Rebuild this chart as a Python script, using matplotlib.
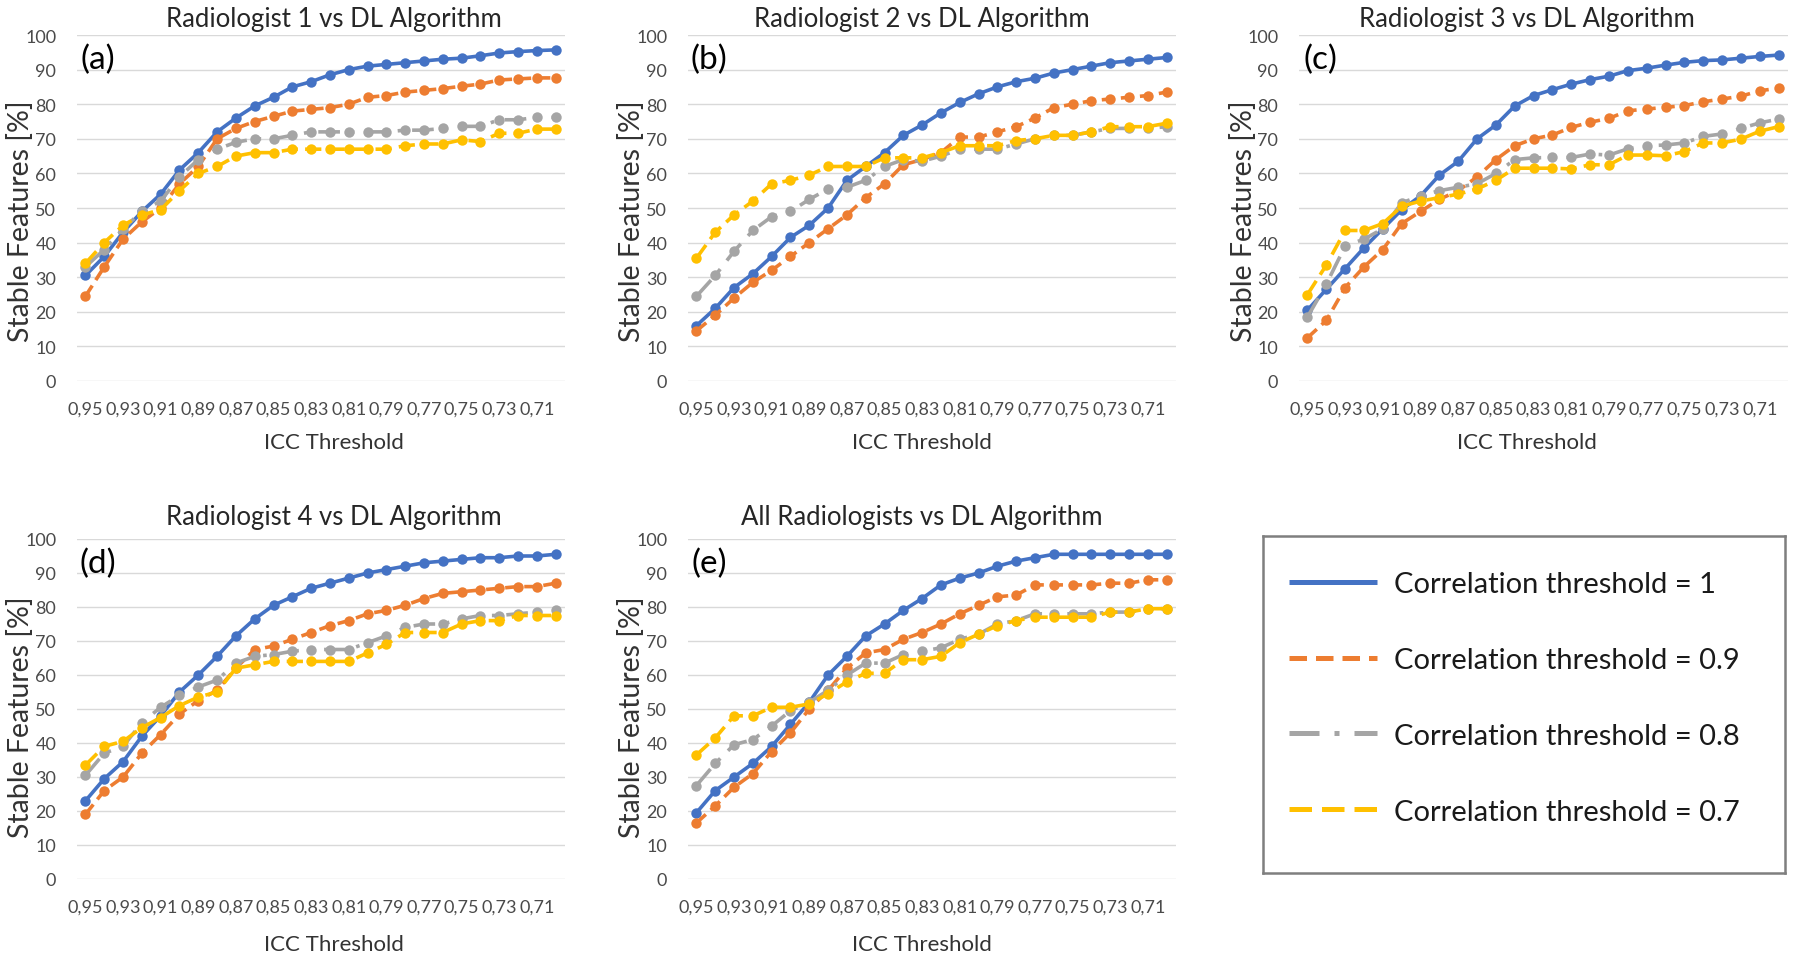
import matplotlib
matplotlib.use("Agg")
import matplotlib.pyplot as plt
from matplotlib.lines import Line2D

plt.rcParams['font.family'] = ['Lato', 'DejaVu Sans']

# ICC thresholds (category axis, 0.95 -> 0.70)
icc = ["0,95", "0,94", "0,93", "0,92", "0,91", "0,90", "0,89", "0,88", "0,87",
       "0,86", "0,85", "0,84", "0,83", "0,82", "0,81", "0,80", "0,79", "0,78",
       "0,77", "0,76", "0,75", "0,74", "0,73", "0,72", "0,71", "0,70"]

series_names = ["Correlation threshold = 1", "Correlation threshold = 0.9",
                "Correlation threshold = 0.8", "Correlation threshold = 0.7"]

titles = ["Radiologist 1 vs DL Algorithm", "Radiologist 2 vs DL Algorithm",
          "Radiologist 3 vs DL Algorithm", "Radiologist 4 vs DL Algorithm",
          "All Radiologists vs DL Algorithm"]
letters = ["(a)", "(b)", "(c)", "(d)", "(e)"]

# (a) Radiologist 1
a_c10 = [30.5, 36, 43, 49, 54, 61, 66, 72, 76, 79.5, 82, 85, 86.5, 88.5, 90, 91,
         91.5, 92, 92.5, 93, 93.3, 94, 94.8, 95.2, 95.5, 95.7]
a_c09 = [24.5, 33, 41, 46, 50, 57, 62, 70, 73, 75, 76.5, 78, 78.5, 79, 80, 82,
         82.5, 83.5, 84, 84.5, 85.2, 85.8, 87, 87.3, 87.6, 87.6]
a_c08 = [33, 38, 44, 49, 52, 59, 64, 67, 69, 70, 70, 71, 72, 72, 72, 72,
         72, 72.5, 72.5, 73, 73.6, 73.6, 75.5, 75.5, 76.2, 76.2]
a_c07 = [34, 40, 45, 48, 49.5, 55, 60, 62, 65, 66, 66, 67, 67, 67, 67, 67,
         67, 68, 68.5, 68.5, 69.7, 69.2, 71.6, 71.6, 72.8, 72.8]

# (b) Radiologist 2
b_c10 = [16, 21, 27, 31, 36, 41.5, 45, 50, 58, 62, 66, 71, 74, 77.5, 80.5, 83,
         85, 86.5, 87.5, 89, 90, 91, 92, 92.5, 93, 93.5]
b_c09 = [14.5, 19, 24, 28.5, 32, 36, 40, 44, 48, 53, 57, 62.5, 64, 66, 70.5, 70.5,
         72, 73.5, 76, 79, 80, 81, 81.5, 82, 82.5, 83.5]
b_c08 = [24.5, 30.5, 37.5, 43.5, 47.5, 49, 52.5, 55.5, 56, 58, 62, 64, 63.5, 65, 67, 67,
         67, 68.5, 70, 71, 71, 72, 73, 73, 73, 73.5]
b_c07 = [35.5, 43, 48, 52, 57, 58, 59.5, 62, 62, 62, 64.5, 64.5, 64.5, 66, 68, 68,
         68, 69.5, 70, 71, 71, 72, 73.5, 73.5, 73.5, 74.5]

# (c) Radiologist 3
c_c10 = [20.5, 26.5, 32.5, 38.5, 44, 49.5, 53.5, 59.5, 63.5, 70, 74, 79.5, 82.5, 84.2,
         85.8, 87.1, 88.1, 89.7, 90.4, 91.3, 92.1, 92.6, 92.8, 93.3, 93.8, 94.2]
c_c09 = [12.5, 17.5, 27, 33, 38, 45.5, 49, 52.5, 55, 59, 64, 68, 70, 71.1,
         73.3, 74.8, 75.9, 78.1, 78.6, 79.1, 79.6, 80.7, 81.5, 82.3, 83.9, 84.6]
c_c08 = [18.5, 28, 39, 41, 44, 51.5, 53.5, 55, 56, 57, 60, 64, 64.5, 64.6,
         64.6, 65.6, 65.3, 67.1, 68, 68.2, 68.8, 70.7, 71.4, 73, 74.6, 75.7]
c_c07 = [25, 33.5, 43.5, 43.5, 45.5, 50.5, 52, 53, 54, 55.5, 58, 61.5, 61.5, 61.5,
         61.3, 62.5, 62.5, 65.3, 65.3, 65.1, 66.3, 68.8, 68.8, 69.9, 72.2, 73.5]

# (d) Radiologist 4
d_c10 = [23, 29.5, 34.5, 42, 48, 55, 60, 65.5, 71.5, 76.5, 80.5, 83, 85.5, 87, 88.5, 90,
         91, 92, 93, 93.5, 94, 94.5, 94.5, 95, 95, 95.5]
d_c09 = [19, 26, 30, 37, 42.5, 48.5, 52.5, 55.5, 62, 67.5, 68.5, 70.5, 72.5, 74.5, 76, 78,
         79, 80.5, 82.5, 84, 84.5, 85, 85.5, 86, 86, 87]
d_c08 = [30.5, 37, 39, 46, 50.5, 54, 56.5, 58.5, 63.5, 65.5, 66, 67, 67.5, 67.5, 67.5, 69.5,
         71.5, 74, 75, 75, 76.5, 77.5, 77.5, 78, 78.5, 79]
d_c07 = [33.5, 39, 40.5, 44.5, 47.5, 51, 53.5, 55, 62, 63, 64, 64, 64, 64, 64, 66.5,
         69, 72.5, 72.5, 72.5, 75, 76, 76, 77.5, 77.5, 77.5]

# (e) All radiologists
e_c10 = [19.5, 26, 30, 34, 39, 45.5, 52, 60, 65.5, 71.5, 75, 79, 82.5, 86.5, 88.5, 90,
         92, 93.5, 94.5, 95.5, 95.5, 95.5, 95.5, 95.5, 95.5, 95.5]
e_c09 = [16.5, 21.5, 27, 31, 37.5, 43, 50, 55.5, 62, 66.5, 67.5, 70.5, 72.5, 75, 78, 80.5,
         83, 83.5, 86.5, 86.5, 86.5, 86.5, 87, 87, 88, 88]
e_c08 = [27.5, 34, 39.5, 41, 45, 49.5, 52, 55.5, 60, 63.5, 63.5, 66, 67, 68, 70.5, 72,
         75, 76, 78, 78, 78, 78, 78.5, 78.5, 79.5, 79.5]
e_c07 = [36.5, 41.5, 48, 48, 50.5, 50.5, 51.5, 54.5, 58, 60.5, 60.5, 64.5, 64.5, 65.5, 69.5, 72,
         74.5, 76, 77, 77, 77, 77, 78.5, 78.5, 79.5, 79.5]

panels = [(a_c10, a_c09, a_c08, a_c07), (b_c10, b_c09, b_c08, b_c07),
          (c_c10, c_c09, c_c08, c_c07), (d_c10, d_c09, d_c08, d_c07),
          (e_c10, e_c09, e_c08, e_c07)]

colors = ["#4472C4", "#ED7D31", "#A5A5A5", "#FFC000"]
dashes = [None, (3.5, 1.8), (6, 3, 1, 3), (4.5, 2)]

W, H = 1800, 962
fig = plt.figure(figsize=(W / 100, H / 100), dpi=100)

# plot area boxes in pixels: left, right, top(100), bottom(0)
boxes = [(77, 565, 36, 382), (688, 1176, 36, 382), (1299, 1788, 36, 382),
         (77, 565, 540, 880), (688, 1176, 540, 880)]
# chart-area centres (title and x label are centred on these)
center_x = [334, 922, 1527, 334, 922]

x = list(range(len(icc)))
for k, (l, r, t, b) in enumerate(boxes):
    ax = fig.add_axes([l / W, 1 - b / H, (r - l) / W, (b - t) / H])
    for vals, col, ds in zip(panels[k], colors, dashes):
        line, = ax.plot(x, vals, color=col, lw=2.6, marker='o', markersize=7.5,
                        markeredgewidth=0, solid_capstyle='butt')
        if ds is not None:
            line.set_dashes(ds)
            line.set_dash_capstyle('butt')
    ax.set_ylim(0, 100)
    ax.set_xlim(-0.45, 25.5)
    ax.set_yticks(range(0, 101, 10))
    ax.set_xticks(x[::2])
    ax.set_xticklabels(icc[::2])
    ax.grid(axis='y', color='#D9D9D9', lw=1)
    ax.set_axisbelow(True)
    for s in ax.spines.values():
        s.set_visible(False)
    ax.tick_params(length=0, labelsize=13, labelcolor='#4A4A4A')
    ax.tick_params(axis='x', pad=14)
    ax.tick_params(axis='y', pad=15)
    ax.set_ylabel("Stable Features [%]", fontsize=20.5, color='#333333')
    ax.yaxis.label.set_va('center')
    ax.yaxis.set_label_coords(-(77 - 21) / (r - l), 0.465 if k < 3 else 0.48)
    ax.set_xlabel("ICC Threshold", fontsize=16, color='#333333')
    ax.xaxis.label.set_va('center')
    xl_off = 61 if k < 3 else 65
    ax.xaxis.set_label_coords((center_x[k] - l) / (r - l), -xl_off / (b - t))
    ax.text(21 / (r - l), 1 - 24 / (b - t), letters[k], transform=ax.transAxes,
            fontsize=24, color='#000000', ha='center', va='center')
    ty = 20 if k < 3 else 517
    fig.text(center_x[k] / W, 1 - ty / H, titles[k], fontsize=18.5, color='#262626',
             ha='center', va='center')

# legend box
lax = fig.add_axes([1263 / W, 1 - 874 / H, (1785 - 1263) / W, (874 - 537) / H])
lax.set_xticks([])
lax.set_yticks([])
for s in lax.spines.values():
    s.set_color('#7F7F7F')
    s.set_linewidth(1.8)
handles = []
for name, col, ds in zip(series_names, colors, dashes):
    h = Line2D([], [], color=col, lw=3.6, solid_capstyle='butt')
    if ds is not None:
        h.set_dashes(ds)
        h.set_dash_capstyle('butt')
    handles.append(h)
lax.legend(handles, series_names, loc='center left', bbox_to_anchor=(0.0, 0.52),
           frameon=False, fontsize=21, handlelength=3.0, handletextpad=0.6,
           labelspacing=1.71, labelcolor='#1A1A1A')

fig.savefig("out.png", dpi=100)
